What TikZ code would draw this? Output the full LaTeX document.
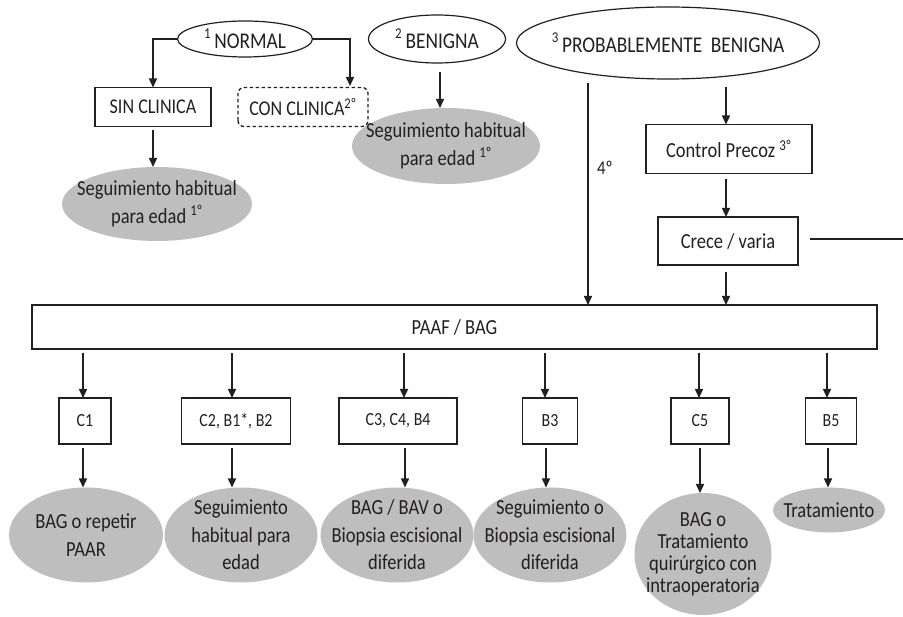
\documentclass[tikz,border=0pt]{standalone}
\usepackage{fontspec}
\setmainfont[FakeStretch=0.86]{Carlito}
\usetikzlibrary{arrows.meta,shapes.geometric,calc}
\definecolor{ink}{HTML}{231F20}
\definecolor{cgray}{HTML}{BEBEBE}
\begin{document}
\begin{tikzpicture}[x=1pt,y=-1pt,
  every node/.style={text=ink},
  line/.style={draw=ink,line width=1.5pt},
  arr/.style={line,-{Triangle[length=9pt,width=8pt]}},
  topell/.style={ellipse,draw=ink,line width=1.2pt,inner sep=0pt,outer sep=0pt},
  ttxt/.style={inner sep=0pt,font=\fontsize{22.5}{25}\selectfont},
  gell/.style={ellipse,fill=cgray,inner sep=0pt,outer sep=0pt},
  etxt/.style={align=center,font=\fontsize{21.5}{27.5}\selectfont,inner sep=0pt},
  box/.style={draw=ink,line width=1.3pt,inner sep=0pt,outer sep=0pt,font=\fontsize{18.5}{21}\selectfont},
  ubox/.style={box,font=\fontsize{21}{24}\selectfont},
  sbox/.style={box,font=\fontsize{21.5}{24}\selectfont}
]
\useasboundingbox (0,0) rectangle (903,617);
% top ellipses
\node[topell,minimum width=135,minimum height=36] (nor) at (245,39) {};
\node[ttxt] (nort) at (nor) {\raisebox{0.45em}{\fontsize{15}{15}\selectfont 1}\,NORMAL};
\node[topell,minimum width=137,minimum height=48] (ben) at (437,39) {};
\node[ttxt] (bent) at (ben) {\raisebox{0.45em}{\fontsize{15}{15}\selectfont 2}\,BENIGNA};
\node[topell,minimum width=303,minimum height=72] (pro) at (668,43) {};
\node[ttxt] (prot) at (pro) {\raisebox{0.45em}{\fontsize{15}{15}\selectfont 3}\,PROBABLEMENTE\ \ BENIGNA};
% normal branch
\node[ubox,minimum width=116,minimum height=39] (sin) at (153,107) {SIN CLINICA};
\node[ubox,draw=none,minimum width=130,minimum height=39] (con) at (303,107) {CON CLINICA\textsuperscript{2º}};
\draw[ink,line width=1.3pt,dash pattern=on 3.5pt off 2.5pt,rounded corners=6pt] (con.south west) rectangle (con.north east);
\coordinate (conin) at (350,86);
\draw[arr] (nor.west) -| (sin.north);
\draw[arr] (nor.east) -| (conin);
\node[gell,minimum width=190,minimum height=74] (e0) at (157,204) {};
\node[etxt] (t0) at (e0) {Seguimiento habitual\\para edad \textsuperscript{1º}};
\coordinate (s0) at (153,130);
\draw[arr] (s0) -- (s0 |- e0.north);
% benigna branch
\node[gell,minimum width=188,minimum height=76] (eb) at (446,146) {};
\node[etxt] (tb) at (eb) {Seguimiento habitual\\para edad \textsuperscript{1º}};
\coordinate (bstart) at (440,72);
\draw[arr] (bstart) -- (bstart |- eb.north);
% probablemente benigna branch
\node[sbox,minimum width=166,minimum height=49] (cp) at (729,149) {Control Precoz \textsuperscript{3º}};
\node[sbox,minimum width=140,minimum height=48] (cv) at (728,241) {Crece / varia};
\node[sbox,minimum width=845,minimum height=44] (paaf) at (454.5,327) {PAAF / BAG};
\coordinate (pstart) at (726,87);
\coordinate (cps) at (726,179);
\coordinate (cvs) at (726,272);
\coordinate (line4) at (588,83);
\coordinate (cve) at (810,239);
\coordinate (rightend) at (903,239);
\draw[arr] (pstart) -- (pstart |- cp.north);
\draw[arr] (cps) -- (cps |- cv.north);
\draw[arr] (cvs) -- (cvs |- paaf.north);
\draw[arr] (line4) -- (line4 |- paaf.north);
\node[font=\fontsize{19.5}{21}\selectfont,anchor=west,inner sep=0pt] (l4) at (597,168) {4º};
\draw[line] (cve) -- (rightend);
% bottom row
\foreach \n/\x/\ax/\w/\txt in {c1/85/83/52/C1, c2/236/232/109/{C2, B1*, B2}, c3/398/404/118/{C3, C4, B4}, b3/550/545/55/B3, c5/700/699/58/C5, b5/831/827/51/B5}{
  \node[box,minimum width=\w,minimum height=46] (\n) at (\x,421) {\txt};
  \coordinate (\n a) at (\ax,353);
  \draw[arr] (\n a) -- (\n a |- \n.north);
}
\node[gell,minimum width=154,minimum height=95] (ec1) at (86,535) {};
\node[etxt] at (ec1) {BAG o repetir\\PAAR};
\node[gell,minimum width=153,minimum height=95] (ec2) at (241,535) {};
\node[etxt] at (ec2) {Seguimiento\\habitual para\\edad};
\node[gell,minimum width=153,minimum height=95] (ec3) at (397,535) {};
\node[etxt] at (ec3) {BAG / BAV o\\Biopsia escisional\\diferida};
\node[gell,minimum width=153,minimum height=95] (eb3) at (550,535) {};
\node[etxt] at (eb3) {Seguimiento o\\Biopsia escisional\\diferida};
\node[gell,minimum width=137,minimum height=122] (ec5) at (703,554) {};
\node[etxt,font=\fontsize{21.5}{22}\selectfont] at (ec5) {BAG o\\Tratamiento\\quirúrgico con\\intraoperatoria};
\node[gell,minimum width=112,minimum height=45] (eb5) at (829,510) {};
\node[etxt] at (eb5) {Tratamiento};
\foreach \n/\ax in {c1/83, c2/232, c3/405, b3/546, c5/700, b5/828}{
  \coordinate (\n b) at (\ax,448);
}
\draw[arr] (c1b) -- (c1b |- ec1.north);
\draw[arr] (c2b) -- (c2b |- ec2.north);
\draw[arr] (c3b) -- (c3b |- ec3.north);
\draw[arr] (b3b) -- (b3b |- eb3.north);
\draw[arr] (c5b) -- (c5b |- ec5.north);
\draw[arr] (b5b) -- (b5b |- eb5.north);
\end{tikzpicture}
\end{document}
